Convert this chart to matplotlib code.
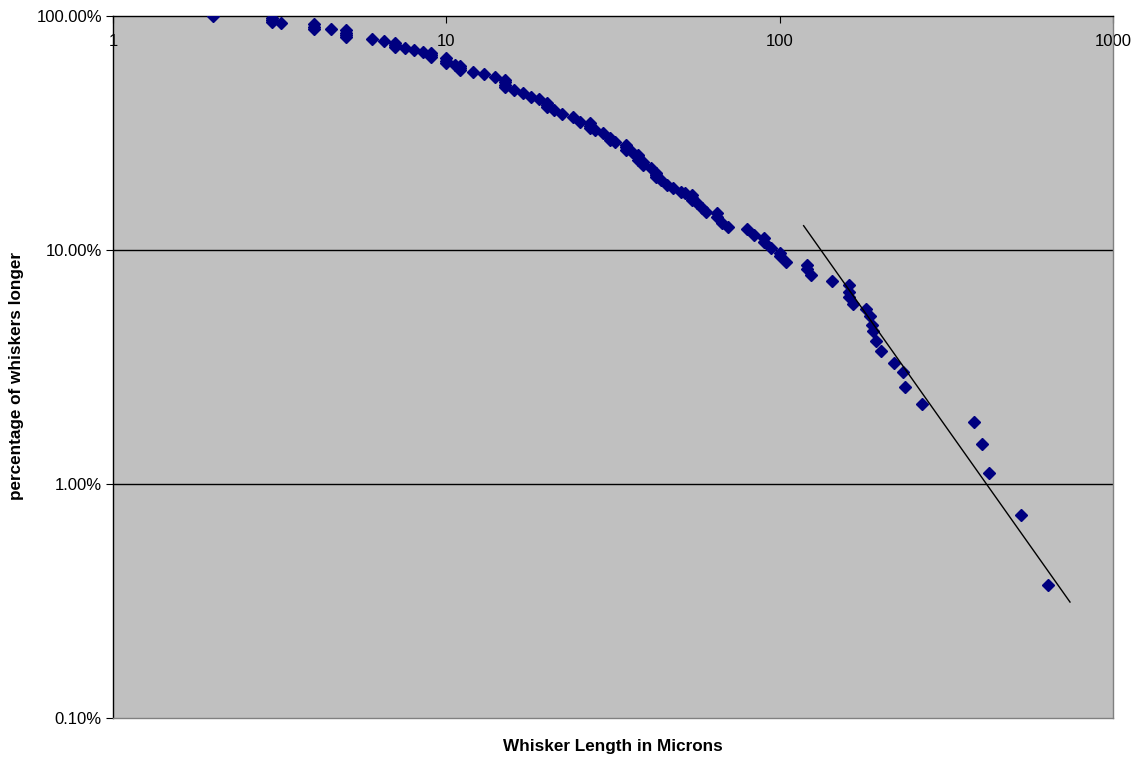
import numpy as np
import matplotlib.pyplot as plt
from matplotlib.ticker import FixedLocator, NullLocator, FuncFormatter

# whisker length (microns) and percentage of whiskers longer (%)
length_um = [
    2, 3, 3, 3, 3.2, 4, 4, 4, 4.5, 5, 5, 5, 5, 6, 6.5, 7, 7, 7, 7.5, 8, 8.5,
    9, 9, 9, 10, 10, 10, 10.6, 11, 11, 11, 12, 13, 14, 15, 15, 15, 15, 16, 17,
    18, 19, 20, 20, 20, 21, 22.3, 24, 25.2, 27, 27, 27, 28, 29.5, 31, 31, 32,
    34.5, 34.5, 34.5, 36, 37.7, 37.7, 37.7, 39, 39, 41, 42.5, 42.5, 42.5, 44,
    46, 48, 50.5, 52, 54.5, 54.5, 54.5, 56.5, 58.5, 60, 65, 65, 67, 70, 80, 84,
    90, 90, 94, 100, 100, 104.5, 121, 121, 124, 144, 161, 161, 161, 166, 182,
    186, 189, 191, 195, 202, 221, 234, 238, 268, 382, 405, 424, 531, 638,
]
pct_longer = [
    100, 98, 96, 94, 93, 92, 90, 88, 88, 87, 85, 83, 81, 80, 78, 76.5, 75, 74,
    73, 71.5, 70, 69.5, 68, 66.7, 66, 64.5, 63, 62, 61, 60, 58.8, 57.7, 56.5,
    54.8, 53.2, 52, 50.5, 49.5, 48.5, 46.9, 45.1, 44, 42.5, 41.5, 40.9, 39.7,
    38.1, 37, 35.2, 34.8, 34, 33.2, 32.6, 31.6, 30.1, 29.5, 29, 28, 27.5, 26.8,
    26.3, 25.5, 24.9, 24.3, 23.8, 23, 22.4, 21.4, 20.9, 20.5, 19.9, 19, 18.4,
    17.7, 17.5, 17.1, 16.7, 16.3, 15.9, 15.1, 14.5, 14.4, 13.8, 13, 12.5, 12.3,
    11.6, 11.3, 10.8, 10.2, 9.7, 9.4, 8.9, 8.6, 8.3, 7.8, 7.4, 7.06, 6.6, 6.3,
    5.9, 5.6, 5.2, 4.8, 4.5, 4.1, 3.7, 3.3, 3.0, 2.6, 2.2, 1.84, 1.48, 1.11,
    0.74, 0.37,
]

# power trend line end points
trend_x = [118, 743]
trend_pct = [12.7, 0.313]

x_ticks = [1, 10, 100, 1000]
y_ticks = [0.001, 0.01, 0.1, 1.0]

plt.rcParams['font.family'] = ['Liberation Sans', 'DejaVu Sans']

fig = plt.figure(figsize=(11.41, 7.64), dpi=100)
ax = fig.add_axes([113 / 1141, 1 - 718 / 764, 1000 / 1141, 702 / 764])
ax.set_facecolor('#C0C0C0')

ax.set_xscale('log')
ax.set_yscale('log')
ax.set_xlim(1, 1000)
ax.set_ylim(0.001, 1.0)

# gridlines at the inner decades
for yv in y_ticks[1:3]:
    ax.axhline(yv, color='black', lw=1, zorder=1)

ax.plot(np.array(length_um), np.array(pct_longer) / 100, ls='none', marker='D',
        ms=6.5, color='#000080', mec='#000080', zorder=3)
ax.plot(trend_x, np.array(trend_pct) / 100, color='black', lw=1, zorder=4)

ax.xaxis.set_major_locator(FixedLocator(x_ticks))
ax.xaxis.set_minor_locator(NullLocator())
ax.yaxis.set_major_locator(FixedLocator(y_ticks))
ax.yaxis.set_minor_locator(NullLocator())
ax.xaxis.set_major_formatter(FuncFormatter(lambda v, p: f"{v:g}"))
ax.yaxis.set_major_formatter(FuncFormatter(lambda v, p: f"{v:.2%}"))

ax.xaxis.set_ticks_position('top')
ax.tick_params(axis='x', which='major', direction='in', length=5, pad=-24,
               labelsize=12, labeltop=True, labelbottom=False)
ax.tick_params(axis='y', which='major', direction='out', length=5, pad=3,
               labelsize=12)

ax.spines['left'].set_color('black')
ax.spines['top'].set_color('black')
ax.spines['right'].set_color('#808080')
ax.spines['bottom'].set_color('#808080')
for s in ax.spines.values():
    s.set_linewidth(1)

fig.text(613 / 1141, 1 - 747 / 764, 'Whisker Length in Microns', ha='center',
         va='center', fontsize=12.3, fontweight='bold')
fig.text(17 / 1141, 1 - 376 / 764, 'percentage of whiskers longer', ha='center',
         va='center', rotation=90, fontsize=12.3, fontweight='bold')

fig.savefig('out.png', dpi=100)
